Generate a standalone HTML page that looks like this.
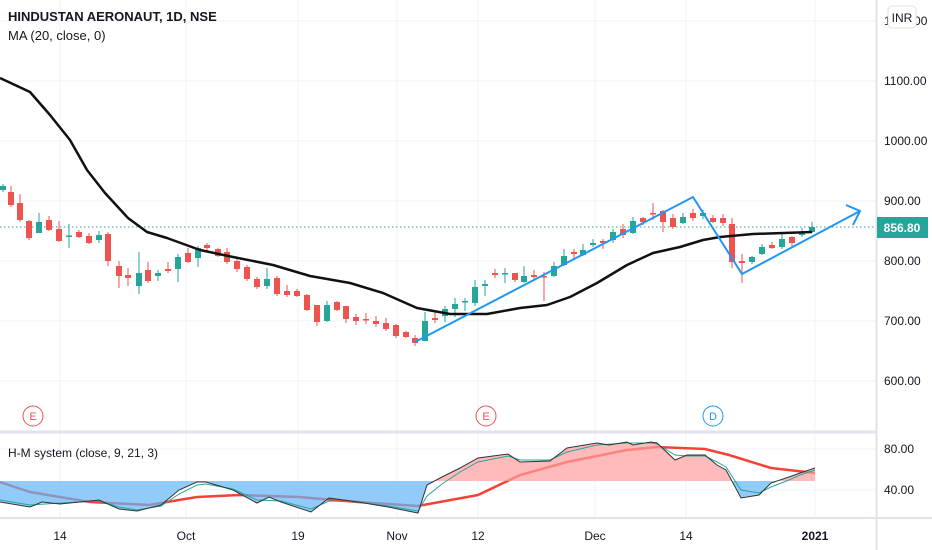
<!DOCTYPE html>
<html><head><meta charset="utf-8"><style>
html,body{margin:0;padding:0;background:#fff;}
svg{display:block;font-family:"Liberation Sans",sans-serif;}
</style></head><body>
<svg id="s" width="932" height="550" viewBox="0 0 932 550" xmlns="http://www.w3.org/2000/svg">
<g stroke="#f0f3fa" stroke-width="1">
<line x1="0" y1="21" x2="876" y2="21"/><line x1="0" y1="81" x2="876" y2="81"/><line x1="0" y1="141" x2="876" y2="141"/><line x1="0" y1="201" x2="876" y2="201"/><line x1="0" y1="261" x2="876" y2="261"/><line x1="0" y1="321" x2="876" y2="321"/><line x1="0" y1="381" x2="876" y2="381"/>
<line x1="0" y1="449" x2="876" y2="449"/><line x1="0" y1="490" x2="876" y2="490"/>
<line x1="60" y1="0" x2="60" y2="518"/><line x1="186" y1="0" x2="186" y2="518"/><line x1="298" y1="0" x2="298" y2="518"/><line x1="397" y1="0" x2="397" y2="518"/><line x1="478" y1="0" x2="478" y2="518"/><line x1="595" y1="0" x2="595" y2="518"/><line x1="686" y1="0" x2="686" y2="518"/><line x1="815" y1="0" x2="815" y2="518"/>
</g>
<line x1="0" y1="432" x2="876" y2="432" stroke="#e0e3eb" stroke-width="3"/>
<line x1="0" y1="518" x2="932" y2="518" stroke="#e0e3eb" stroke-width="2"/>
<line x1="876.5" y1="0" x2="876.5" y2="550" stroke="#e0e3eb" stroke-width="2"/>
<line x1="0" y1="227" x2="876" y2="227" stroke="#26a69a" stroke-width="1" stroke-dasharray="1.5,2.5"/>
<g id="candles"></g>
<polyline fill="none" stroke="#111" stroke-width="2.5" stroke-linejoin="round" points="0,78 30,92 50,115 70,140 87,170 105,193 128,218 147,232 167,238 200,250 233,257 273,265 310,276 350,283 383,293 417,308 450,314 487,314 520,308 547,305 570,297 597,283 627,265 653,253 680,247 703,240 720,237 753,234 812,232"/>
<polyline fill="none" stroke="#2196f3" stroke-width="2" points="415,342 693,197 742,274 860,211"/>
<polyline fill="none" stroke="#2196f3" stroke-width="2" points="846,205 860,211 853,225"/>
<g font-size="11" text-anchor="middle">
<circle cx="33" cy="416" r="10" fill="#fff" stroke="#ef5350"/><text x="33" y="420" fill="#ef5350">E</text>
<circle cx="486" cy="416" r="10" fill="#fff" stroke="#ef5350"/><text x="486" y="420" fill="#ef5350">E</text>
<circle cx="713" cy="416" r="10" fill="#fff" stroke="#2196f3"/><text x="713" y="420" fill="#2196f3">D</text>
</g>
<defs>
<clipPath id="above"><rect x="0" y="430" width="876" height="51"/></clipPath>
<clipPath id="below"><rect x="0" y="481" width="876" height="40"/></clipPath>
</defs>
<g id="ind"></g>
<text x="8" y="21" font-size="13" font-weight="bold" fill="#131722">HINDUSTAN AERONAUT, 1D, NSE</text>
<text x="8" y="40" font-size="13" fill="#131722">MA (20, close, 0)</text>
<text x="8" y="457" font-size="12" fill="#131722">H-M system (close, 9, 21, 3)</text>
<g font-size="12" fill="#131722">
<text x="884" y="25">1200.00</text>
<text x="884" y="85">1100.00</text><text x="884" y="145">1000.00</text><text x="884" y="205">900.00</text><text x="884" y="265">800.00</text><text x="884" y="325">700.00</text><text x="884" y="385">600.00</text>
<text x="884" y="453">80.00</text><text x="884" y="494">40.00</text>
</g>
<rect x="888" y="6" width="28" height="22" rx="4" fill="#fff" stroke="#e0e3eb"/>
<text x="902" y="22" font-size="12" fill="#131722" text-anchor="middle">INR</text>
<rect x="877" y="217" width="51" height="21" fill="#26a69a"/>
<text x="902" y="232" font-size="12" font-weight="bold" fill="#fff" text-anchor="middle">856.80</text>
<g font-size="12" fill="#131722" text-anchor="middle">
<text x="60" y="540">14</text><text x="186" y="540">Oct</text><text x="298" y="540">19</text><text x="397" y="540">Nov</text><text x="478" y="540">12</text><text x="595" y="540">Dec</text><text x="686" y="540">14</text><text x="815" y="540" font-weight="bold">2021</text>
</g>
</svg>
<script>
var NS="http://www.w3.org/2000/svg";
var c=[[3,186,190,184,192,1],[11,192,205,186,207,0],[20,203,220,194,222,0],[29,221,238,220,240,0],[39,222,233,213,233,1],[49,220,230,216,231,0],[59,229,241,221,242,0],[69,235.5,236.7,224,248,1],[79,232,237,230,238,0],[89,236,243,233,244,0],[99,235,240,231,243,1],[108,234,261,232,266,0],[119,266,276,261,288,0],[128,275,278,268,286,0],[139,273,286,252,294,1],[148,270,281,262,283,0],[158,273,276,270,281,1],[168,269,271,262,273,0],[178,257,269,254,282,1],[188,253,262,248,263,0],[198,248,258,246,267,1],[207,245,248,243,252,0],[218,249,256,248,257,0],[227,252,262,248,264,0],[237,261,269,258,272,0],[247,267,279,265,281,0],[257,279,287,277,289,0],[267,279,286,268,289,1],[277,278,294,276,296,0],[287,291,295,285,297,0],[297,291,296,289,297,0],[307,295,310,294,311,0],[317,305,322,305,326,0],[327,305,321,301,322,1],[337,302,310,301,311,0],[346,306,319,306,323,0],[356,317,321,314,325,0],[366,319,320,313,324,0],[376,321,324,316,327,0],[386,323,329,318,331,0],[396,325,336,324,338,0],[406,332,337,331,338,0],[415,338,343,335,346,0],[425,321,341,312,341,1],[435,318,320,310,323,0],[445,309,316,306,322,1],[455,304,309,298,317,1],[465,301,302,298,311,1],[475,287,303,280,306,1],[485,284,286,280,296,1],[495,273,275,269,278,0],[505,273,274,268,283,1],[515,273,280,273,282,0],[524,276,282,266,283,1],[534,275,277,270,279,0],[544,276,277,272,301,0],[554,266,276,262,277,1],[564,256,265,249,266,1],[574,252,254,249,258,0],[583,250,255,244,256,1],[593,243,245,239,247,1],[603,241,243,239,249,0],[613,232,240,229,243,1],[623,229,235,224,238,0],[633,221,233,217,234,1],[643,218,222,217,225,0],[653,213,214,203,220,0],[663,211,222,210,232,0],[673,218,227,214,229,0],[683,217,223,213,224,1],[693,213,218,209,221,0],[703,213,216,210,219,1],[713,218,222,215,223,0],[723,218,223,214,226,0],[732,224,262,218,268,0],[742,261,263,254,283,0],[752,257,262,256,264,1],[762,247,254,244,255,1],[772,245,248,242,249,0],[782,239,247,233,249,1],[792,237,243,236,247,0],[802,233,235,228,237,1],[812,227,232,222,233,1]];
var g=document.getElementById("candles"),h="";
c.forEach(function(d){var col=d[5]?"#26a69a":"#ef5350";var bh=Math.max(1.5,d[2]-d[1]);
h+='<line x1="'+d[0]+'" y1="'+d[3]+'" x2="'+d[0]+'" y2="'+d[4]+'" stroke="'+col+'" stroke-width="1"/>';
h+='<rect x="'+(d[0]-3)+'" y="'+d[1]+'" width="6" height="'+bh+'" fill="'+col+'"/>';});
g.innerHTML=h;
var osc="0,502 30,507 42,502 60,504 99,500 119,509 137,511 161,505 179,490 197,482 206,482 233,490 257,503 269,497 281,502 311,512 329,498 358,502 388,507 418,513 427,485 442,477 460,468 478,458 508,454 520,462 550,461 567,448 597,443 609,445 627,442 633,445 651,442 657,443 675,460 687,455 705,455 717,465 726,470 741,498 759,495 771,483 789,477 800,473 815,468";
var sig="0,500 30,505 60,503 99,501 119,507 137,510 161,506 179,494 197,485 206,484 233,489 257,500 281,501 311,509 329,501 358,502 388,506 418,511 427,496 442,484 460,472 478,462 508,456 520,460 550,460 567,452 597,445 627,443 651,443 657,444 675,455 687,456 705,456 717,462 726,467 741,490 759,493 771,487 789,480 800,475 815,470";
var red="0,482 30,492 90,502 149,505 197,497 239,495 299,497 358,502 418,506 478,495 520,475 567,462 627,450 657,447 705,449 729,455 771,468 815,473";
var area="0,481 "+osc+" 815,481";
document.getElementById("ind").innerHTML=
'<polyline fill="none" stroke="#f44336" stroke-width="2.5" points="'+red+'"/>'+
'<polygon clip-path="url(#above)" fill="#ff9e9e" fill-opacity="0.7" points="'+area+'"/>'+
'<polygon clip-path="url(#below)" fill="#64b5f6" fill-opacity="0.7" points="'+area+'"/>'+
'<polyline fill="none" stroke="#26a69a" stroke-width="1" points="'+sig+'"/>'+
'<polyline fill="none" stroke="#333" stroke-width="1" points="'+osc+'"/>';
</script>
</body></html>
